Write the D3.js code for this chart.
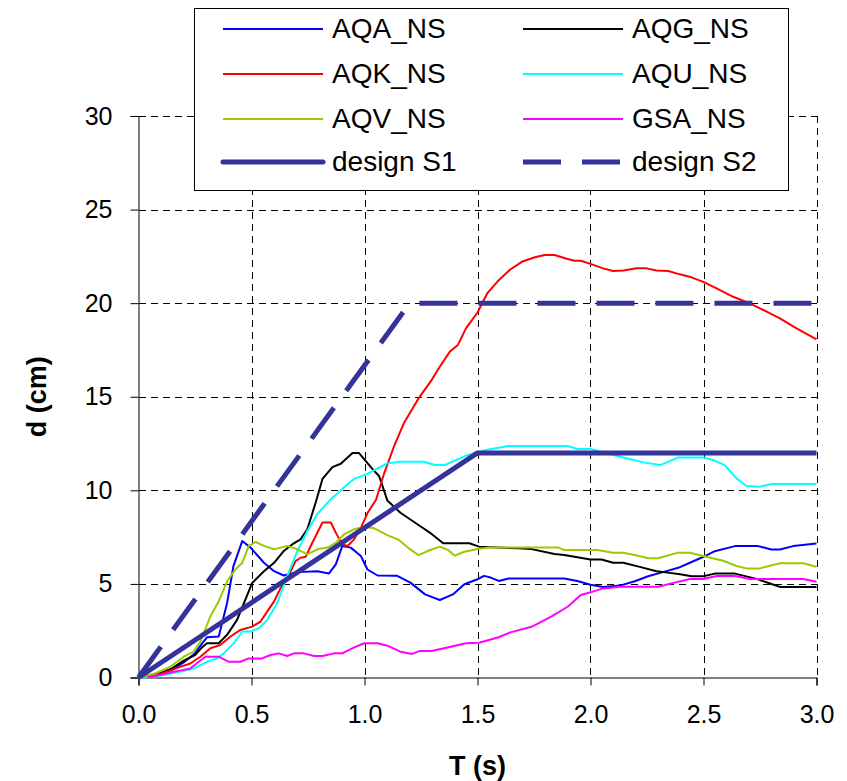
<!DOCTYPE html>
<html>
<head>
<meta charset="utf-8">
<script src="https://cdn.jsdelivr.net/npm/d3@7"></script>
<style>
  body { margin: 0; background: #fff; }
  text { font-family: "Liberation Sans", Arial, sans-serif; fill: #000; }
</style>
</head>
<body>
<svg id="chart" width="847" height="781"></svg>
<script>
// Displacement spectra d(T) for each record, plus the two design spectra.
const seriesNames = ["AQA_NS", "AQG_NS", "AQK_NS", "AQU_NS", "AQV_NS", "GSA_NS", "design S1", "design S2"];
const seriesColors = ["#0000ff", "#000000", "#ff0000", "#00ffff", "#99cc00", "#ff00ff", "#333399", "#333399"];

const aqaT = [0,0.1,0.15,0.2,0.25,0.28,0.303,0.355,0.392,0.42,0.459,0.496,0.555,0.6,0.643,0.703,0.791,0.843,0.873,0.902,0.939,0.984,1.013,1.058,1.145,1.203,1.268,1.333,1.391,1.442,1.5,1.529,1.558,1.594,1.638,1.739,1.884,1.942,2.0,2.056,2.13,2.196,2.255,2.32,2.388,2.44,2.5,2.55,2.639,2.742,2.8,2.838,2.897,3.0];
const aqaD = [0,0.2,0.4,0.8,1.3,1.8,2.15,2.19,3.98,5.95,7.29,6.94,6.13,5.68,5.45,5.63,5.68,5.56,6.04,7.03,6.94,6.49,5.77,5.45,5.43,5.07,4.44,4.14,4.44,4.98,5.25,5.43,5.34,5.16,5.29,5.29,5.29,5.16,4.96,4.84,4.91,5.14,5.41,5.63,5.86,6.13,6.45,6.75,7.02,7.02,6.84,6.84,7.02,7.16];

const aqgT = [0,0.1,0.15,0.2,0.25,0.28,0.303,0.355,0.392,0.436,0.473,0.503,0.555,0.6,0.643,0.68,0.717,0.747,0.784,0.814,0.858,0.895,0.947,0.976,1.028,1.065,1.101,1.159,1.239,1.297,1.348,1.464,1.507,1.681,1.739,1.841,1.884,1.942,2.0,2.049,2.1,2.145,2.218,2.292,2.351,2.403,2.447,2.499,2.55,2.639,2.735,2.794,2.838,3.0];
const aqgD = [0,0.25,0.5,0.9,1.2,1.6,1.83,1.83,2.28,3.08,4.16,5.05,5.68,6.13,6.76,7.11,7.38,7.92,9.35,10.61,11.24,11.42,11.99,11.99,11.24,10.75,9.46,8.8,8.15,7.67,7.17,7.17,6.99,6.9,6.86,6.6,6.54,6.42,6.3,6.3,6.13,6.13,5.91,5.68,5.59,5.5,5.41,5.41,5.55,5.55,5.27,5.02,4.84,4.84];

const aqkT = [0,0.05,0.1,0.185,0.229,0.274,0.318,0.362,0.407,0.451,0.503,0.54,0.57,0.6,0.629,0.666,0.695,0.717,0.74,0.769,0.814,0.851,0.873,0.902,0.925,0.954,0.984,1.014,1.051,1.087,1.13,1.174,1.239,1.297,1.333,1.377,1.413,1.449,1.5,1.543,1.594,1.645,1.696,1.754,1.797,1.841,1.891,1.928,1.957,2.0,2.056,2.1,2.145,2.204,2.248,2.292,2.344,2.395,2.447,2.499,2.558,2.631,2.705,2.771,2.838,2.904,3.0];
const aqkD = [0,0.05,0.2,0.57,0.75,1.11,1.56,1.74,2.19,2.54,2.72,2.99,3.53,4.07,4.78,5.5,6.22,6.4,6.45,7.2,8.28,8.28,7.74,7.11,7.03,7.38,8.01,8.8,9.5,10.91,12.33,13.58,14.91,15.89,16.6,17.4,17.76,18.65,19.5,20.52,21.23,21.8,22.21,22.45,22.57,22.57,22.39,22.27,22.27,22.1,21.86,21.72,21.74,21.86,21.86,21.74,21.72,21.54,21.38,21.14,20.79,20.34,19.99,19.6,19.19,18.71,18.07];

const aquT = [0,0.05,0.111,0.185,0.244,0.303,0.348,0.377,0.422,0.459,0.496,0.533,0.57,0.614,0.658,0.703,0.747,0.791,0.851,0.91,0.954,1.013,1.043,1.101,1.159,1.261,1.312,1.355,1.406,1.457,1.536,1.638,1.899,1.942,2.0,2.071,2.159,2.24,2.307,2.336,2.388,2.499,2.543,2.594,2.646,2.69,2.749,2.801,3.0];
const aquD = [0,0.02,0.13,0.3,0.48,0.84,1.02,1.29,1.83,2.46,2.46,2.63,3.08,3.98,5.41,6.76,7.83,8.73,9.53,10.16,10.61,10.88,11.08,11.44,11.53,11.53,11.35,11.35,11.62,11.89,12.15,12.37,12.37,12.21,12.21,11.98,11.71,11.48,11.35,11.48,11.76,11.76,11.62,11.35,10.64,10.23,10.19,10.34,10.34];

const aqvT = [0,0.07,0.14,0.2,0.244,0.274,0.318,0.355,0.392,0.429,0.459,0.488,0.518,0.555,0.6,0.629,0.658,0.703,0.747,0.791,0.836,0.873,0.91,0.954,0.999,1.043,1.101,1.152,1.196,1.239,1.29,1.333,1.37,1.399,1.442,1.5,1.551,1.855,1.884,2.029,2.1,2.145,2.196,2.255,2.299,2.388,2.44,2.499,2.587,2.646,2.69,2.749,2.838,2.941,3.0];
const aqvD = [0,0.2,0.57,1.11,1.38,1.92,3.26,4.07,5.14,5.77,6.13,7.03,7.24,7.03,6.85,6.94,7.03,6.85,6.58,6.85,6.94,7.2,7.65,7.92,8.05,7.97,7.61,7.35,6.9,6.54,6.81,6.99,6.81,6.51,6.72,6.86,6.95,6.95,6.81,6.81,6.67,6.67,6.54,6.37,6.37,6.67,6.67,6.49,6.24,5.96,5.83,5.83,6.1,6.1,5.92];

const gsaT = [0.04,0.1,0.155,0.229,0.266,0.296,0.355,0.4,0.451,0.488,0.547,0.584,0.621,0.658,0.688,0.732,0.777,0.814,0.865,0.902,0.954,0.999,1.058,1.101,1.159,1.21,1.246,1.297,1.362,1.449,1.507,1.594,1.645,1.739,1.826,1.899,1.957,2.0,2.056,2.13,2.3,2.358,2.44,2.499,2.558,2.639,2.705,2.941,3.0];
const gsaD = [0,0.15,0.3,0.48,0.84,1.11,1.11,0.84,0.84,1.02,1.02,1.2,1.29,1.15,1.29,1.29,1.15,1.15,1.29,1.29,1.61,1.83,1.83,1.7,1.38,1.26,1.42,1.42,1.59,1.83,1.86,2.15,2.41,2.71,3.25,3.78,4.41,4.55,4.76,4.85,4.85,5.03,5.26,5.26,5.42,5.42,5.26,5.26,5.12];

const s1T = [0, 1.5, 3.0];
const s1D = [0, 12, 12];
const s2T = [0, 1.2, 3.0];
const s2D = [0, 20, 20];

const xTicks = [0, 0.5, 1.0, 1.5, 2.0, 2.5, 3.0];
const yTicks = [0, 5, 10, 15, 20, 25, 30];

const seriesT = [aqaT, aqgT, aqkT, aquT, aqvT, gsaT, s1T, s2T];
const seriesD = [aqaD, aqgD, aqkD, aquD, aqvD, gsaD, s1D, s2D];
const series = seriesNames.map((name, i) => ({
  name,
  color: seriesColors[i],
  design: i >= 6,
  dashed: i === 7,
  points: seriesT[i].map((t, j) => [t, seriesD[i][j]])
}));

const svg = d3.select("#chart");
const plotLeft = 138.5, plotRight = 816.5, plotTop = 116, plotBottom = 677.5;

const x = d3.scaleLinear().domain([0, 3]).range([plotLeft, plotRight]);
const y = d3.scaleLinear().domain([0, 30]).range([plotBottom, plotTop]);

// dashed grid at every major tick
const grid = svg.append("g").attr("stroke", "#000").attr("stroke-width", 1)
  .attr("stroke-dasharray", "7,5").attr("shape-rendering", "crispEdges");
grid.selectAll("line.h").data(yTicks.filter(v => v > 0)).join("line")
  .attr("class", "h")
  .attr("x1", plotLeft).attr("x2", plotRight)
  .attr("y1", d => Math.round(y(d)) + 0.5).attr("y2", d => Math.round(y(d)) + 0.5);
grid.selectAll("line.v").data(xTicks.filter(v => v > 0)).join("line")
  .attr("class", "v")
  .attr("y1", plotTop).attr("y2", plotBottom)
  .attr("x1", d => Math.round(x(d)) + 0.5).attr("x2", d => Math.round(x(d)) + 0.5);

// axes
const yAxis = d3.axisLeft(y).tickValues(yTicks).tickSize(8).tickPadding(18)
  .tickFormat(d3.format("d"));
const xAxis = d3.axisBottom(x).tickValues(xTicks).tickSize(8).tickPadding(20)
  .tickFormat(d3.format(".1f"));

const gy = svg.append("g").attr("transform", `translate(${plotLeft},0)`).call(yAxis);
const gx = svg.append("g").attr("transform", `translate(0,${plotBottom})`).call(xAxis);
[gx, gy].forEach(g => {
  g.attr("font-size", null).attr("font-family", null);
  g.select(".domain").attr("stroke", "#000").attr("stroke-width", 1);
  g.selectAll(".tick line").attr("stroke", "#000");
  g.selectAll(".tick text").attr("font-size", 25)
    .attr("font-family", "'Liberation Sans', Arial, sans-serif").attr("fill", "#000");
});

// series lines
const line = d3.line().x(d => x(d[0])).y(d => y(d[1]));
svg.append("g").selectAll("path").data(series).join("path")
  .attr("d", d => line(d.points))
  .attr("fill", "none")
  .attr("stroke", d => d.color)
  .attr("stroke-width", d => d.design ? 5 : 2)
  .attr("stroke-linejoin", "round")
  .attr("stroke-dasharray", d => d.dashed ? "38,21" : null);

// axis titles
svg.append("text").attr("x", (plotLeft + plotRight) / 2).attr("y", 775)
  .attr("text-anchor", "middle").attr("font-size", 27).attr("font-weight", "bold")
  .text("T (s)");
svg.append("text")
  .attr("transform", `translate(46,${(plotTop + plotBottom) / 2}) rotate(-90)`)
  .attr("text-anchor", "middle").attr("font-size", 27).attr("font-weight", "bold")
  .text("d (cm)");

// legend
const legend = svg.append("g");
legend.append("rect").attr("x", 194.5).attr("y", 8.5).attr("width", 594).attr("height", 182)
  .attr("fill", "#fff").attr("stroke", "#000").attr("stroke-width", 1);
const rowY = [29, 74, 119, 162];
const colX = [223, 523];
series.forEach((s, i) => {
  const cx = colX[i % 2], cy = rowY[Math.floor(i / 2)];
  legend.append("line")
    .attr("x1", cx).attr("x2", cx + 100).attr("y1", cy).attr("y2", cy)
    .attr("stroke", s.color)
    .attr("stroke-width", s.design ? 5 : 2)
    .attr("stroke-linecap", s.design && !s.dashed ? "round" : "butt")
    .attr("stroke-dasharray", s.dashed ? "38,21" : null);
  legend.append("text").attr("x", cx + 109).attr("y", cy + 9)
    .attr("font-size", 28).text(s.name);
});
</script>
</body>
</html>
